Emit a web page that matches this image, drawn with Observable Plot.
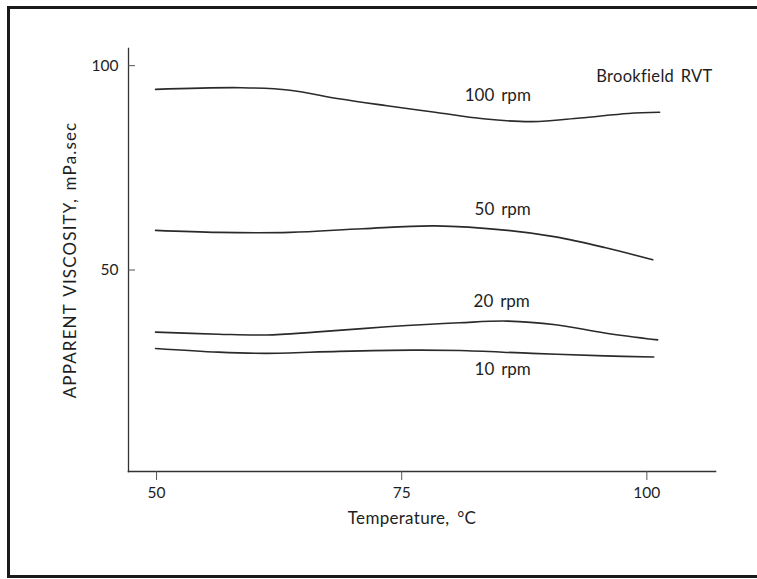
<!DOCTYPE html>
<html>
<head>
<meta charset="utf-8">
<script src="https://cdn.jsdelivr.net/npm/d3@7"></script>
<script src="https://cdn.jsdelivr.net/npm/@observablehq/plot@0.6"></script>
<style>
  html, body { margin: 0; padding: 0; background: #fff; overflow: hidden; }
  #wrap { position: relative; width: 757px; height: 579px; overflow: hidden; }
  .edge { position: absolute; background: #1a1a1a; }
  #chart { position: absolute; left: 0; top: 0; }
</style>
</head>
<body>
<div id="wrap">
  <div class="edge" style="left:7px; top:6px; width:750px; height:3px;"></div>
  <div class="edge" style="left:7px; top:6px; width:3px; height:572px;"></div>
  <div class="edge" style="left:7px; top:575px; width:750px; height:3px;"></div>
  <div id="chart"></div>
</div>
<script>
// Temperature (°C) sample points and apparent viscosity (mPa.sec) per speed
const temp100 = [49.9, 58.7, 63.6, 68.6, 73.5, 78.4, 83.3, 88.3, 93.2, 98.1, 101.3];
const visc100 = [94.2, 94.6, 94.0, 91.9, 90.2, 88.6, 87.0, 86.3, 87.2, 88.3, 88.6];

const temp50 = [49.9, 56.3, 63.6, 71.0, 78.4, 85.8, 90.7, 95.7, 100.6];
const visc50 = [59.7, 59.2, 59.2, 60.1, 60.8, 59.7, 58.1, 55.5, 52.5];

const temp20 = [49.9, 56.3, 61.2, 66.1, 73.5, 80.9, 85.8, 90.7, 95.7, 101.1];
const visc20 = [34.8, 34.3, 34.1, 34.8, 36.1, 37.1, 37.5, 36.6, 34.6, 32.9];

const temp10 = [49.9, 56.3, 61.2, 68.6, 76.0, 80.9, 88.3, 95.7, 100.7];
const visc10 = [30.8, 29.9, 29.6, 30.1, 30.4, 30.3, 29.6, 29.0, 28.7];

const seriesNames = ["100 rpm", "50 rpm", "20 rpm", "10 rpm"];
const labelTemp = [84.8, 85.3, 85.2, 85.3];
const labelVisc = [92.7, 64.9, 42.2, 25.6];

const xTicks = [50, 75, 100];
const yTicks = [50, 100];
const instrument = "Brookfield RVT";

const series = [
  {name: seriesNames[0], t: temp100, v: visc100},
  {name: seriesNames[1], t: temp50, v: visc50},
  {name: seriesNames[2], t: temp20, v: visc20},
  {name: seriesNames[3], t: temp10, v: visc10}
];
const rows = series.flatMap(s => s.t.map((t, i) => ({series: s.name, t, v: s.v[i]})));
const labels = seriesNames.map((n, i) => ({name: n, t: labelTemp[i], v: labelVisc[i]}));

const font = "Lato, 'Open Sans', sans-serif";
const ink = "#1e1e1e";

const plot = Plot.plot({
  width: 757,
  height: 579,
  marginLeft: 128,
  marginRight: 42,
  marginTop: 48,
  marginBottom: 108,
  style: {fontFamily: font, fontSize: "15px", color: ink, background: "transparent"},
  x: {domain: [47.14, 107.0]},
  y: {domain: [0.7, 104.2]},
  marks: [
    Plot.frame({anchor: "left", stroke: "#333", strokeWidth: 1.3}),
    Plot.frame({anchor: "bottom", stroke: "#333", strokeWidth: 1.6}),
    Plot.axisX({ticks: xTicks, tickSize: 9, tickPadding: 6, tickFormat: d => d, fontSize: 15.5, label: null, stroke: "#555"}),
    Plot.axisY({ticks: yTicks, tickSize: -7, tickPadding: 17, tickFormat: d => d, fontSize: 15.5, label: null, stroke: "#555"}),
    Plot.text(["Temperature, °C"], {frameAnchor: "bottom", dx: -10, dy: 52, fontSize: 17, fill: ink}),
    Plot.text(["APPARENT VISCOSITY, mPa.sec"], {frameAnchor: "left", dx: -58, rotate: -90, textAnchor: "middle", fontSize: 17, fill: ink}),
    Plot.line(rows, {x: "t", y: "v", z: "series", curve: "catmull-rom", stroke: "#2a2a2a", strokeWidth: 1.6}),
    Plot.text(labels, {x: "t", y: "v", text: "name", fontSize: 17, fill: ink}),
    Plot.text([instrument], {frameAnchor: "top-right", dx: -3, dy: 22, textAnchor: "end", fontSize: 16.5, fill: ink})
  ]
});
// letter/word spacing per text mark (in mark order)
const spacing = [["0.3px", "3px"], ["1.15px", "2px"], ["0px", "2.5px"], ["0.3px", "2px"]];
plot.querySelectorAll('g[aria-label="text"]').forEach((g, i) => {
  if (spacing[i]) { g.style.letterSpacing = spacing[i][0]; g.style.wordSpacing = spacing[i][1]; }
});
document.getElementById("chart").appendChild(plot);
</script>
</body>
</html>
